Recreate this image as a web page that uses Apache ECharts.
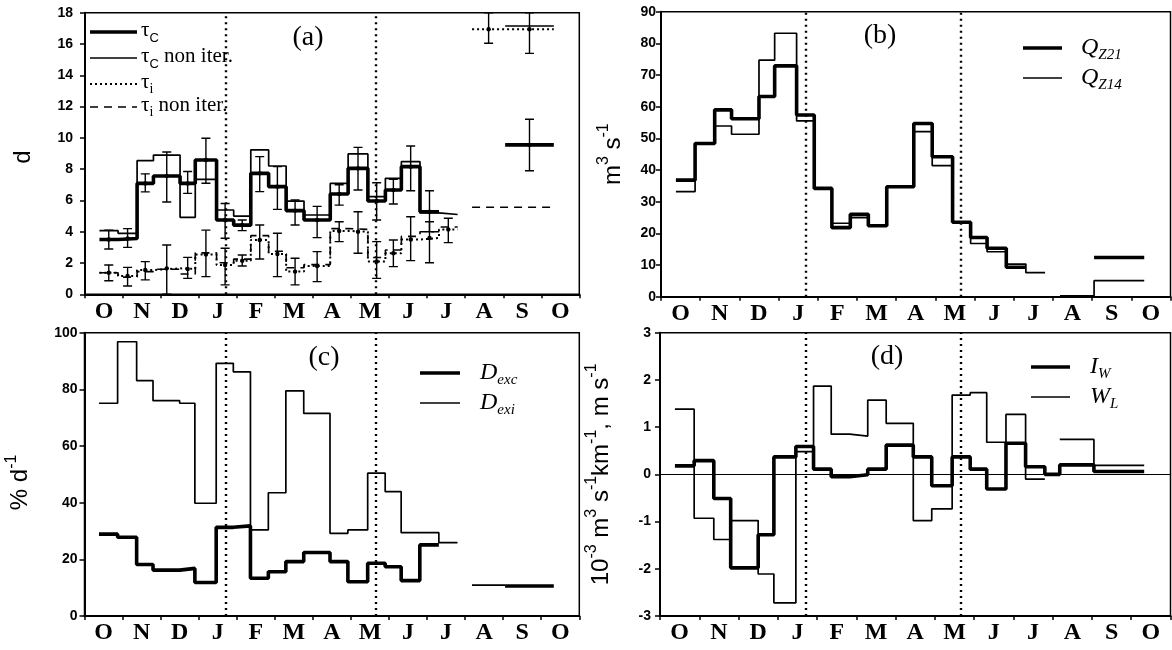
<!DOCTYPE html>
<html>
<head>
<meta charset="utf-8">
<script src="https://cdn.jsdelivr.net/npm/echarts@6/dist/echarts.min.js"></script>
<style>
  html, body { margin: 0; padding: 0; background: #fff; }
  #chart { width: 1172px; height: 650px; }
</style>
</head>
<body>
<div id="chart"></div>
<script>
// Month labels, October to October
const months = ['O', 'N', 'D', 'J', 'F', 'M', 'A', 'M', 'J', 'J', 'A', 'S', 'O'];

// Sampling period boundaries, in months counted from 1 October
const edges = [0.38, 0.87, 1.37, 1.80, 2.50, 2.90, 3.46, 3.91, 4.36, 4.83, 5.29, 5.76,
               6.45, 6.92, 7.44, 7.90, 8.32, 8.81, 9.31, 9.80, 10.18, 11.05, 12.33];

// Season limits (dotted verticals)
const seasonBreaks = [3.7, 7.65];

// (a) time scales, d
const tauC        = [3.5, 3.57, 7.09, 7.56, 7.09, 8.58, 4.75, 4.42, 7.73, 6.88, 5.35, 4.75, 6.41, 8.05, 5.96, 6.67, 8.16, 5.28, null, null, null, 9.55];
const tauCLow     = [2.9, 3.0, 6.55, 5.9, 6.45, 7.1, 3.58, 4.07, 6.56, 5.43, 4.43, 3.62, 5.7, 6.67, 4.75, 5.77, 6.62, 4.0, null, null, null, 7.9];
const tauCHigh    = [4.1, 4.2, 7.7, 9.1, 7.85, 9.97, 5.8, 4.75, 8.8, 8.16, 6.03, 5.62, 7.0, 9.39, 7.13, 7.35, 9.48, 6.62, null, null, null, 11.19];
const tauCNonIter = [4.07, 3.9, 8.54, 8.9, 4.92, 7.35, 5.39, 5.0, 9.23, 8.2, 5.96, 5.07, 7.09, 8.97, 6.24, 7.41, 8.48, 5.2, 5.1, null, null, 17.15];
const tauI        = [1.38, 1.17, 1.55, 1.66, 1.62, 2.55, 1.87, 2.15, 3.47, 2.58, 1.45, 1.81, 4.05, 4.0, 2.1, 2.62, 3.5, 3.6, 4.15, null, 16.94, 16.94];
const tauILow     = [0.87, 0.53, 0.92, 0.0, 1.02, 1.13, 0.6, 1.81, 2.26, 1.13, 0.6, 0.81, 3.37, 2.62, 1.02, 1.77, 2.15, 2.02, 3.3, null, 16.05, 15.4];
const tauIHigh    = [1.87, 1.72, 2.09, 3.15, 2.36, 4.1, 2.94, 2.51, 4.43, 3.9, 2.3, 2.73, 4.64, 5.28, 3.37, 3.47, 4.96, 4.64, 4.86, null, 18.0, 18.0];
const tauINonIter = [1.38, 1.1, 1.45, 1.6, 1.3, 2.65, 2.02, 2.25, 3.75, 2.75, 1.7, 1.9, 4.2, 4.15, 2.35, 2.83, 3.7, 4.0, 4.3, null, 5.56, 5.56];

// (b) discharge, m3 s-1
const qZ21 = [36.8, 48.4, 59.0, 56.2, 63.2, 72.9, 57.4, 34.2, 21.8, 26.0, 22.4, 34.7, 54.7, 44.2, 23.5, 18.7, 15.3, 9.3, null, null, null, 12.4];
const qZ14 = [33.2, 48.4, 53.9, 51.3, 74.7, 83.2, 55.5, 34.2, 23.2, 25.0, 22.4, 34.7, 52.1, 41.4, 23.5, 16.8, 14.2, 10.3, 7.6, null, 0.3, 5.05];

// (c) exchange rates, % d-1
const dExc = [28.9, 27.8, 18.2, 16.2, 16.8, 11.8, 31.3, 31.8, 13.3, 15.6, 19.2, 22.4, 19.2, 12.1, 18.6, 17.4, 12.5, 25.1, null, null, null, 10.6];
const dExi = [75.1, 96.8, 83.1, 76.0, 75.1, 39.8, 89.2, 86.2, 30.4, 43.5, 79.5, 71.5, 29.2, 30.4, 50.4, 43.9, 29.4, 29.4, 25.9, null, 10.9, null];

// (d) inflow and wind
const iW = [0.18, 0.29, -0.51, -1.98, -1.28, 0.37, 0.59, 0.11, -0.05, -0.01, 0.11, 0.62, 0.37, -0.24, 0.37, 0.11, -0.31, 0.66, 0.16, 0.0, 0.2, 0.06];
const wL = [1.38, -0.93, -1.38, -0.98, -2.11, -2.72, 0.48, 1.87, 0.85, 0.81, 1.57, 1.08, -0.98, -0.73, 1.68, 1.73, 0.68, 1.27, -0.10, null, 0.74, 0.19];

// ---------------------------------------------------------------------------
const BLACK = '#000';
const THICK = { color: BLACK, width: 3.6, type: 'solid' };
const THIN = { color: BLACK, width: 1.7, type: 'solid' };
const DOTTED = { color: BLACK, width: 2, type: [2, 3] };
const DASHED = { color: BLACK, width: 1.6, type: [8, 6] };

// Turn per-period values into a stepped polyline (gaps where a period has no value)
function stepPoints(vals) {
  const pts = [];
  vals.forEach((v, i) => {
    if (v == null) {
      if (pts.length && pts[pts.length - 1][1] !== '-') pts.push([edges[i], '-']);
      return;
    }
    pts.push([edges[i], v], [edges[i + 1], v]);
  });
  return pts;
}

function stepSeries(name, vals, g, lineStyle, extra) {
  return Object.assign({
    type: 'line', name, xAxisIndex: 2 * g + 1, yAxisIndex: g,
    data: stepPoints(vals), symbol: 'none', showSymbol: false,
    connectNulls: false, lineStyle, animation: false, silent: true, z: 3
  }, extra || {});
}

function renderError(params, api) {
  const x = api.value(0), lo = api.value(1), hi = api.value(2), c = api.value(3);
  const p0 = api.coord([x, lo]), p1 = api.coord([x, hi]), pc = api.coord([x, c]);
  const w = 4.5;
  const st = { stroke: BLACK, lineWidth: 1.4 };
  return {
    type: 'group',
    children: [
      { type: 'line', shape: { x1: p0[0], y1: p0[1], x2: p1[0], y2: p1[1] }, style: st },
      { type: 'line', shape: { x1: p0[0] - w, y1: p0[1], x2: p0[0] + w, y2: p0[1] }, style: st },
      { type: 'line', shape: { x1: p1[0] - w, y1: p1[1], x2: p1[0] + w, y2: p1[1] }, style: st },
      { type: 'circle', shape: { cx: pc[0], cy: pc[1], r: 2.2 }, style: { fill: BLACK } }
    ]
  };
}

function errorSeries(vals, lo, hi, g) {
  const data = [];
  vals.forEach((v, i) => {
    if (v == null || lo[i] == null) return;
    data.push([(edges[i] + edges[i + 1]) / 2, lo[i], hi[i], v]);
  });
  return {
    type: 'custom', xAxisIndex: 2 * g + 1, yAxisIndex: g, data,
    renderItem: renderError, encode: { x: 0, y: [1, 2, 3] },
    animation: false, silent: true, z: 5, clip: true
  };
}

function seasonLines() {
  return {
    symbol: 'none', silent: true, animation: false,
    label: { show: false },
    lineStyle: { color: BLACK, width: 2.4, type: [2, 4] },
    data: seasonBreaks.map(x => ({ xAxis: x }))
  };
}

const grids = [
  { left: 85, top: 12.7, width: 494.3, height: 281.6 },
  { left: 661, top: 11.7, width: 509.5, height: 285 },
  { left: 84.5, top: 332.7, width: 494.8, height: 283.3 },
  { left: 660, top: 332.7, width: 510.5, height: 283.3 }
].map(g => Object.assign(g, {
  show: true, borderColor: BLACK, borderWidth: 1.5, backgroundColor: 'transparent',
  containLabel: false, outerBoundsMode: 'none'
}));

const xAxes = [];
grids.forEach((_, g) => {
  xAxes.push({
    type: 'category', gridIndex: g, data: months, boundaryGap: true, position: 'bottom',
    axisLine: { show: true, onZero: false, lineStyle: { color: BLACK, width: 2 } },
    axisTick: { show: true, length: 4, lineStyle: { color: BLACK, width: 1.5 } },
    axisLabel: { show: true, interval: 0, margin: 5, color: BLACK,
                 fontFamily: 'Liberation Serif', fontSize: 24, fontWeight: 'bold' },
    splitLine: { show: false }
  });
  xAxes.push({ type: 'value', gridIndex: g, min: 0, max: 13, show: false });
});

const nameRich = {
  n: { fontFamily: 'Liberation Sans', fontSize: 24, color: BLACK, lineHeight: 29, verticalAlign: 'bottom' },
  s: { fontFamily: 'Liberation Sans', fontSize: 16, color: BLACK, lineHeight: 16, verticalAlign: 'top' }
};

function yAxis(g, min, max, interval, name, gap, margin, pad) {
  return {
    type: 'value', gridIndex: g, min, max, interval,
    axisLine: { show: true, onZero: false, lineStyle: { color: BLACK, width: 2 } },
    axisTick: { show: true, length: 5, lineStyle: { color: BLACK, width: 1.5 } },
    axisLabel: { color: BLACK, fontFamily: 'Liberation Sans', fontWeight: 'bold', fontSize: 14, margin },
    splitLine: { show: false },
    name, nameLocation: 'middle', nameRotate: 90, nameGap: gap,
    nameTextStyle: { rich: nameRich, padding: [0, pad, 0, 0] }
  };
}

const yAxes = [
  yAxis(0, 0, 18, 2, '{n|d}', 50, 12, 7),
  yAxis(1, 0, 90, 10, '{n|m}{s|3}{n| s}{s|-1}', 36, 5, 0),
  yAxis(2, 0, 100, 20, '{n|% d}{s|-1}', 52, 7, 16),
  yAxis(3, -3, 3, 1, '{n|10}{s|-3}{n| m}{s|3}{n| s}{s|-1}{n|km}{s|-1}{n|, m s}{s|-1}', 47, 9, 0)
];

const series = [
  // (a)
  stepSeries('τc non iter.', tauCNonIter, 0, THIN, { markLine: seasonLines() }),
  stepSeries('τc', tauC, 0, THICK),
  stepSeries('τi', tauI, 0, DOTTED),
  stepSeries('τi non iter.', tauINonIter, 0, DASHED),
  errorSeries(tauC, tauCLow, tauCHigh, 0),
  errorSeries(tauI, tauILow, tauIHigh, 0),
  // (b)
  stepSeries('QZ14', qZ14, 1, THIN, { markLine: seasonLines() }),
  stepSeries('QZ21', qZ21, 1, THICK),
  // (c)
  stepSeries('Dexi', dExi, 2, THIN, { markLine: seasonLines() }),
  stepSeries('Dexc', dExc, 2, THICK),
  // (d)
  stepSeries('WL', wL, 3, THIN, { markLine: seasonLines() }),
  stepSeries('IW', iW, 3, THICK, {
    markLine: {
      symbol: 'none', silent: true, animation: false, label: { show: false },
      lineStyle: { color: BLACK, width: 1, type: 'solid' },
      data: [{ yAxis: 0 }]
    }
  })
];

// Panel letters and keys
const keyRichA = {
  t: { fontFamily: 'Liberation Serif', fontSize: 21, color: BLACK, lineHeight: 22, verticalAlign: 'top' },
  c: { fontFamily: 'Liberation Sans', fontSize: 13, color: BLACK, lineHeight: 25, verticalAlign: 'bottom' },
  i: { fontFamily: 'Liberation Serif', fontSize: 14, color: BLACK, lineHeight: 25, verticalAlign: 'bottom' }
};
const keyRichItalic = {
  t: { fontFamily: 'Liberation Serif', fontStyle: 'italic', fontSize: 24, color: BLACK, lineHeight: 24, verticalAlign: 'top' },
  s: { fontFamily: 'Liberation Serif', fontStyle: 'italic', fontSize: 15, color: BLACK, lineHeight: 27, verticalAlign: 'bottom' }
};

function keyLine(x1, x2, y, ls) {
  return {
    type: 'line', shape: { x1, y1: y, x2, y2: y }, silent: true,
    style: { stroke: BLACK, lineWidth: ls.width, lineDash: Array.isArray(ls.type) ? ls.type : null }
  };
}
function keyText(x, y, text, rich, dy) {
  return { type: 'text', x, y: y + dy, silent: true,
           style: { text, rich, align: 'left', verticalAlign: 'middle' } };
}
function panelLetter(x, y, t) {
  return { type: 'text', x, y, silent: true,
           style: { text: t, fontFamily: 'Liberation Serif', fontSize: 28, fill: BLACK,
                    align: 'center', verticalAlign: 'middle' } };
}

const graphics = [
  panelLetter(308, 38, '(a)'), panelLetter(880, 36, '(b)'),
  panelLetter(324, 358, '(c)'), panelLetter(887, 357, '(d)'),
  // (a) key
  keyLine(90, 137, 32, THICK), keyText(141, 32, '{t|τ}{c|C}', keyRichA, 0),
  keyLine(90, 137, 58, THIN), keyText(141, 58, '{t|τ}{c|C}{t| non iter.}', keyRichA, 0),
  keyLine(90, 137, 84, DOTTED), keyText(141, 84, '{t|τ}{i|i}', keyRichA, 0),
  keyLine(90, 137, 107, DASHED), keyText(141, 107, '{t|τ}{i|i}{t| non iter.}', keyRichA, 0),
  // (b) key
  keyLine(1023, 1062, 48, THICK), keyText(1081, 48, '{t|Q}{s|Z21}', keyRichItalic, 1.5),
  keyLine(1023, 1062, 78, THIN), keyText(1081, 78, '{t|Q}{s|Z14}', keyRichItalic, 1.5),
  // (c) key
  keyLine(420, 460, 373, THICK), keyText(480, 373, '{t|D}{s|exc}', keyRichItalic, 1.5),
  keyLine(420, 460, 403, THIN), keyText(480, 403, '{t|D}{s|exi}', keyRichItalic, 1.5),
  // (d) key
  keyLine(1031, 1070, 367, THICK), keyText(1090, 367, '{t|I}{s|W}', keyRichItalic, 1.5),
  keyLine(1031, 1070, 397, THIN), keyText(1090, 397, '{t|W}{s|L}', keyRichItalic, 1.5)
];

const chart = echarts.init(document.getElementById('chart'), null, { renderer: 'canvas' });
chart.setOption({
  backgroundColor: '#fff',
  animation: false,
  grid: grids,
  xAxis: xAxes,
  yAxis: yAxes,
  series,
  graphic: graphics
});
</script>
</body>
</html>
